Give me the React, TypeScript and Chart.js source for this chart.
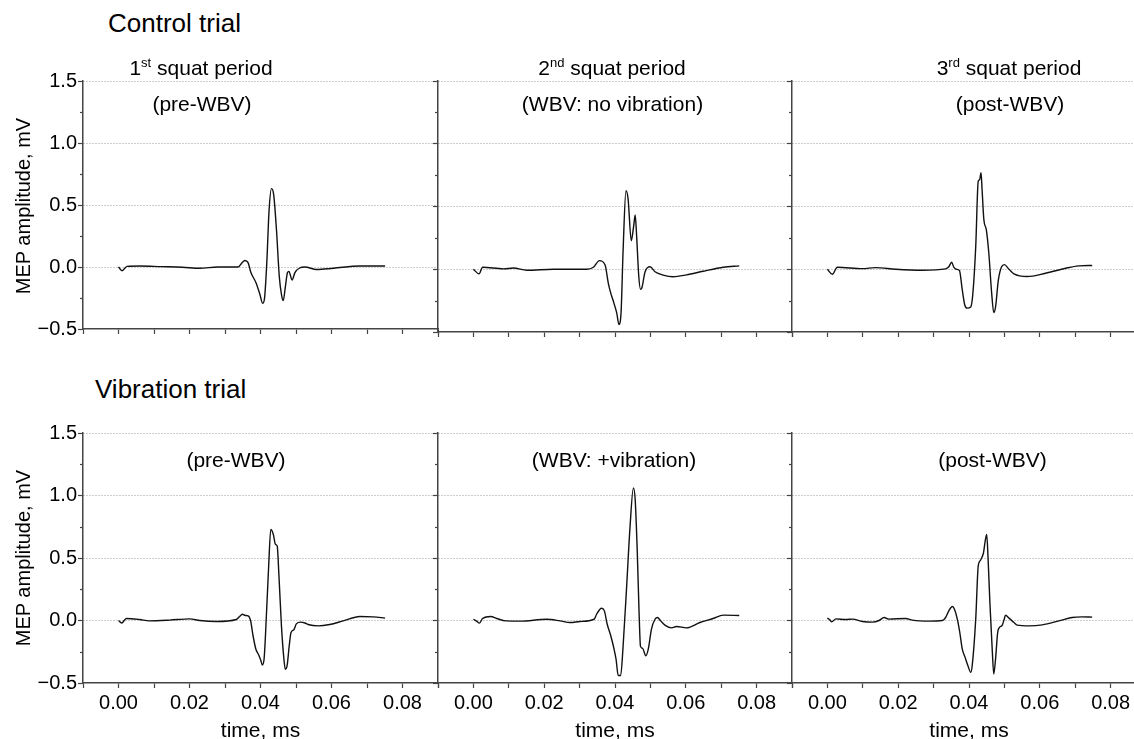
import React, { useEffect, useRef } from 'react';
import { Chart, registerables } from 'chart.js';

Chart.register(...registerables);

// ---- Data (time in ms, amplitude in mV) ----
const ctrlPreT = [0, 0.001, 0.0024, 0.006, 0.012, 0.018, 0.0229, 0.028, 0.0337, 0.0348, 0.0356, 0.0365, 0.0373, 0.0387, 0.0398, 0.0406, 0.0411, 0.0418, 0.0424, 0.0431, 0.0437, 0.0445, 0.0453, 0.0459, 0.0464, 0.047, 0.0476, 0.048, 0.0489, 0.0497, 0.051, 0.0525, 0.0558, 0.0605, 0.068, 0.0751];
const ctrlPreV = [0, -0.03, 0.005, 0.008, 0.003, -0.002, -0.01, 0, 0, 0.035, 0.053, 0.035, -0.045, -0.125, -0.218, -0.293, -0.26, 0.05, 0.45, 0.632, 0.585, 0.3, -0.08, -0.22, -0.271, -0.16, -0.045, -0.035, -0.105, -0.045, -0.008, 0, -0.02, -0.01, 0.008, 0.008];

const ctrlWbvT = [0, 0.0016, 0.0026, 0.0085, 0.0113, 0.0151, 0.0226, 0.032, 0.0339, 0.0356, 0.0372, 0.0381, 0.0388, 0.0397, 0.0405, 0.0411, 0.0417, 0.0423, 0.0431, 0.0437, 0.0446, 0.0453, 0.0457, 0.0461, 0.0467, 0.0472, 0.0476, 0.0485, 0.0499, 0.0513, 0.0536, 0.0564, 0.0602, 0.0649, 0.0706, 0.0751];
const ctrlWbvV = [0, -0.037, 0.016, 0.003, 0.01, -0.008, 0, 0, 0.016, 0.069, 0.034, -0.11, -0.19, -0.27, -0.35, -0.44, -0.35, 0.16, 0.625, 0.56, 0.227, 0.35, 0.432, 0.27, -0.05, -0.16, -0.147, -0.02, 0.02, -0.02, -0.047, -0.06, -0.045, -0.016, 0.016, 0.027];

const ctrlPostT = [0, 0.0014, 0.0028, 0.0099, 0.0136, 0.0193, 0.0268, 0.0334, 0.0343, 0.0351, 0.0357, 0.0364, 0.0373, 0.0381, 0.0388, 0.0395, 0.0405, 0.0411, 0.0419, 0.0426, 0.043, 0.0434, 0.0437, 0.0442, 0.0449, 0.0456, 0.0464, 0.047, 0.0475, 0.0483, 0.0492, 0.05, 0.0513, 0.0527, 0.0564, 0.0616, 0.0673, 0.071, 0.0748];
const ctrlPostV = [0, -0.04, 0.016, 0.005, 0.013, 0, -0.008, 0.003, 0.02, 0.056, 0.016, 0, -0.01, -0.165, -0.285, -0.31, -0.3, -0.19, 0.18, 0.7, 0.713, 0.77, 0.633, 0.394, 0.314, 0.128, -0.19, -0.346, -0.3, -0.085, 0.02, 0.037, 0, -0.037, -0.058, -0.032, 0.008, 0.027, 0.03];

const vibPreT = [0, 0.0009, 0.0022, 0.0059, 0.0087, 0.0144, 0.02, 0.0229, 0.0276, 0.0332, 0.0341, 0.0349, 0.0357, 0.0365, 0.0372, 0.0379, 0.0387, 0.0394, 0.0401, 0.0405, 0.041, 0.0417, 0.0423, 0.0429, 0.0436, 0.0442, 0.0447, 0.0452, 0.0459, 0.0466, 0.047, 0.0475, 0.0481, 0.0486, 0.0494, 0.0501, 0.0513, 0.0525, 0.0534, 0.0563, 0.0595, 0.0633, 0.068, 0.0718, 0.0751];
const vibPreV = [0, -0.02, 0.016, 0.008, -0.003, 0.003, 0.013, 0, -0.008, 0.008, 0.032, 0.05, 0.04, 0.037, 0, -0.122, -0.23, -0.27, -0.32, -0.356, -0.31, 0.064, 0.436, 0.729, 0.69, 0.61, 0.596, 0.356, -0.043, -0.31, -0.39, -0.36, -0.2, -0.096, -0.074, -0.027, -0.013, -0.02, -0.032, -0.043, -0.032, -0.003, 0.032, 0.029, 0.019];

const vibWbvT = [0, 0.0009, 0.0017, 0.0026, 0.0049, 0.0066, 0.0092, 0.0132, 0.0207, 0.0245, 0.0273, 0.0301, 0.0341, 0.0348, 0.0362, 0.037, 0.0378, 0.0388, 0.0395, 0.0403, 0.0409, 0.0416, 0.0423, 0.0433, 0.0442, 0.0452, 0.0457, 0.0463, 0.0468, 0.0472, 0.0478, 0.0487, 0.0494, 0.0503, 0.0513, 0.052, 0.0529, 0.0541, 0.056, 0.0574, 0.0602, 0.064, 0.0677, 0.0706, 0.0751];
const vibWbvV = [0.01, -0.005, -0.021, 0.016, 0.032, 0.016, -0.003, -0.005, 0.01, -0.003, -0.016, -0.008, 0.01, 0.05, 0.098, 0.077, -0.03, -0.122, -0.2, -0.31, -0.44, -0.44, -0.2, 0.277, 0.729, 1.061, 0.968, 0.543, 0.064, -0.207, -0.223, -0.282, -0.229, -0.069, 0.01, 0.024, -0.003, -0.037, -0.059, -0.048, -0.059, -0.016, 0.016, 0.043, 0.04];

const vibPostT = [0, 0.0007, 0.0012, 0.0024, 0.0052, 0.0071, 0.0099, 0.0127, 0.0146, 0.016, 0.0174, 0.0221, 0.024, 0.0287, 0.0325, 0.0334, 0.0343, 0.0353, 0.0359, 0.0367, 0.0374, 0.0381, 0.0389, 0.0397, 0.0405, 0.0409, 0.0419, 0.0426, 0.0431, 0.0437, 0.0441, 0.0445, 0.045, 0.0454, 0.0459, 0.0466, 0.047, 0.0475, 0.0481, 0.0486, 0.0494, 0.05, 0.0503, 0.0513, 0.0527, 0.0536, 0.0569, 0.0607, 0.0654, 0.0691, 0.072, 0.0748];
const vibPostV = [0.019, 0.005, -0.011, 0.013, 0.008, 0.011, -0.008, -0.013, 0, 0.024, 0.011, 0.016, 0.003, -0.005, 0, 0.024, 0.077, 0.112, 0.09, 0.011, -0.096, -0.229, -0.295, -0.362, -0.415, -0.362, 0.011, 0.436, 0.476, 0.508, 0.543, 0.622, 0.689, 0.489, 0.144, -0.255, -0.428, -0.309, -0.096, -0.056, -0.037, 0.016, 0.043, 0.019, -0.016, -0.037, -0.043, -0.035, -0.003, 0.024, 0.029, 0.027];

const rowTitles = ['Control trial', 'Vibration trial'];
const periodOrdinals = ['1', '2', '3'];
const periodSuffixes = ['st', 'nd', 'rd'];
const subTitles = [
  ['(pre-WBV)', '(WBV: no vibration)', '(post-WBV)'],
  ['(pre-WBV)', '(WBV: +vibration)', '(post-WBV)'],
];
const yAxisTitle = 'MEP amplitude, mV';
const xAxisTitle = 'time, ms';

const series = [
  [[ctrlPreT, ctrlPreV], [ctrlWbvT, ctrlWbvV], [ctrlPostT, ctrlPostV]],
  [[vibPreT, vibPreV], [vibWbvT, vibWbvV], [vibPostT, vibPostV]],
];

// ---- Layout ----
const FONT = '"Liberation Sans", Arial, Helvetica, sans-serif';
const COL_LEFT = [83, 438, 792];
const COL_W = [355, 354, 354];
const ROW_TOP = [81, 433];
const ROW_H = [251, 250];
const L = 83;
const T = 20;
const R = 6;

const isMajor = (v: number) => Math.round(v * 4) % 2 === 0;

const minorTicks = {
  id: 'minorTicks',
  afterDraw(chart: any) {
    const ys = chart.scales.y;
    const ctx = chart.ctx;
    const left = chart.chartArea.left;
    ctx.save();
    ctx.strokeStyle = '#444';
    ctx.lineWidth = 1.2;
    ys.ticks.forEach((tk: any) => {
      if (!isMajor(tk.value)) {
        const py = Math.round(ys.getPixelForValue(tk.value)) + 0.5;
        ctx.beginPath();
        ctx.moveTo(left - 3, py);
        ctx.lineTo(left, py);
        ctx.stroke();
      }
    });
    ctx.restore();
  },
};

function Panel({ row, col }: { row: number; col: number }) {
  const ref = useRef<HTMLCanvasElement>(null);
  const B = row === 1 ? 56 : 10;
  const plotW = COL_W[col];
  const plotH = ROW_H[row];
  const cw = L + plotW + R;
  const ch = T + plotH + B;
  useEffect(() => {
    const [ts, vs] = series[row][col];
    const chart = new Chart(ref.current as HTMLCanvasElement, {
      type: 'line',
      data: {
        datasets: [
          {
            data: ts.map((x, i) => ({ x, y: vs[i] })),
            borderColor: '#111',
            borderWidth: 1.4,
            pointRadius: 0,
            fill: false,
            cubicInterpolationMode: 'monotone',
          },
        ],
      },
      options: {
        animation: false,
        responsive: false,
        devicePixelRatio: 1,
        events: [],
        layout: { padding: { top: T, right: R, left: 0, bottom: 0 } },
        plugins: { legend: { display: false }, tooltip: { enabled: false } },
        scales: {
          x: {
            type: 'linear',
            min: -0.01,
            max: 0.09,
            afterFit: (s: any) => {
              s.height = B;
            },
            ticks: {
              stepSize: 0.01,
              autoSkip: false,
              maxRotation: 0,
              minRotation: 0,
              display: row === 1,
              padding: 3,
              color: '#000',
              font: { family: FONT, size: 20 },
              callback: (val: any) => {
                const k = Math.round(Number(val) * 100);
                return k >= 0 && k <= 8 && k % 2 === 0 ? (k / 100).toFixed(2) : '';
              },
            },
            grid: {
              display: true,
              drawOnChartArea: false,
              drawTicks: true,
              tickLength: 5,
              tickColor: '#444',
              tickWidth: 1.2,
            },
            border: { display: true, color: '#444', width: 1.5 },
          },
          y: {
            type: 'linear',
            min: -0.5,
            max: 1.5,
            afterFit: (s: any) => {
              s.width = L;
            },
            ticks: {
              stepSize: 0.25,
              autoSkip: false,
              display: col === 0,
              padding: 1,
              color: '#000',
              font: { family: FONT, size: 20 },
              callback: (val: any) => {
                const k = Math.round(Number(val) * 4);
                if (k % 2 !== 0) return '';
                const n = k / 4;
                return n < 0 ? '\u2212' + Math.abs(n).toFixed(1) : n.toFixed(1);
              },
            },
            grid: {
              display: true,
              drawTicks: true,
              tickLength: 5,
              lineWidth: 1,
              tickWidth: 1.2,
              color: (c: any) => {
                const v = c.tick ? c.tick.value : undefined;
                if (v === undefined) return 'transparent';
                const k = Math.round(v * 4);
                return k % 2 === 0 && k > -2 ? '#9a9a9a' : 'transparent';
              },
              tickColor: (c: any) => {
                const v = c.tick ? c.tick.value : undefined;
                if (v === undefined) return 'transparent';
                return isMajor(v) ? '#444' : 'transparent';
              },
            },
            border: { display: true, color: '#444', width: 1.5, dash: [1, 2] },
          },
        },
      } as any,
      plugins: [minorTicks],
    });
    return () => chart.destroy();
  }, [row, col]);
  return (
    <canvas
      ref={ref}
      width={cw}
      height={ch}
      style={{
        position: 'absolute',
        left: COL_LEFT[col] - L,
        top: ROW_TOP[row] - T,
        width: cw,
        height: ch,
      }}
    />
  );
}

function Txt({
  x,
  baseline,
  size,
  center,
  children,
}: {
  x: number;
  baseline: number;
  size: number;
  center?: boolean;
  children: React.ReactNode;
}) {
  return (
    <div
      style={{
        position: 'absolute',
        left: x,
        top: baseline - 0.8465 * size,
        fontSize: size,
        lineHeight: `${size}px`,
        whiteSpace: 'nowrap',
        color: '#000',
        transform: center ? 'translateX(-50%)' : undefined,
      }}
    >
      {children}
    </div>
  );
}

const headingPos = [
  { x: 108, baseline: 32 },
  { x: 95, baseline: 398 },
];
const periodCenters = [201, 612, 1009];
const subCenters = [
  [202, 612.5, 1010],
  [236, 614, 992.5],
];
const subBaselines = [111, 467];
const yTitleCenters = [206, 558];

export default function App() {
  return (
    <div
      style={{
        position: 'absolute',
        left: 0,
        top: 0,
        width: 1134,
        height: 739,
        overflow: 'hidden',
        background: '#fff',
        fontFamily: FONT,
      }}
    >
      {[0, 1].map((row) =>
        [0, 1, 2].map((col) => <Panel key={`${row}-${col}`} row={row} col={col} />)
      )}
      {rowTitles.map((t, i) => (
        <Txt key={t} x={headingPos[i].x} baseline={headingPos[i].baseline} size={26}>
          {t}
        </Txt>
      ))}
      {periodOrdinals.map((o, i) => (
        <Txt key={o} x={periodCenters[i]} baseline={75} size={21} center>
          {o}
          <span style={{ fontSize: 13, position: 'relative', top: -8 }}>{periodSuffixes[i]}</span>
          {' squat period'}
        </Txt>
      ))}
      {subTitles.map((r, ri) =>
        r.map((s, ci) => (
          <Txt key={`${ri}-${ci}`} x={subCenters[ri][ci]} baseline={subBaselines[ri]} size={21} center>
            {s}
          </Txt>
        ))
      )}
      {yTitleCenters.map((cy, i) => (
        <div
          key={i}
          style={{
            position: 'absolute',
            left: 23,
            top: cy,
            fontSize: 20,
            lineHeight: '20px',
            whiteSpace: 'nowrap',
            transform: 'translate(-50%, -50%) rotate(-90deg)',
          }}
        >
          {yAxisTitle}
        </div>
      ))}
      {COL_LEFT.map((lx, i) => (
        <Txt key={i} x={lx + COL_W[i] / 2} baseline={737} size={21} center>
          {xAxisTitle}
        </Txt>
      ))}
    </div>
  );
}
